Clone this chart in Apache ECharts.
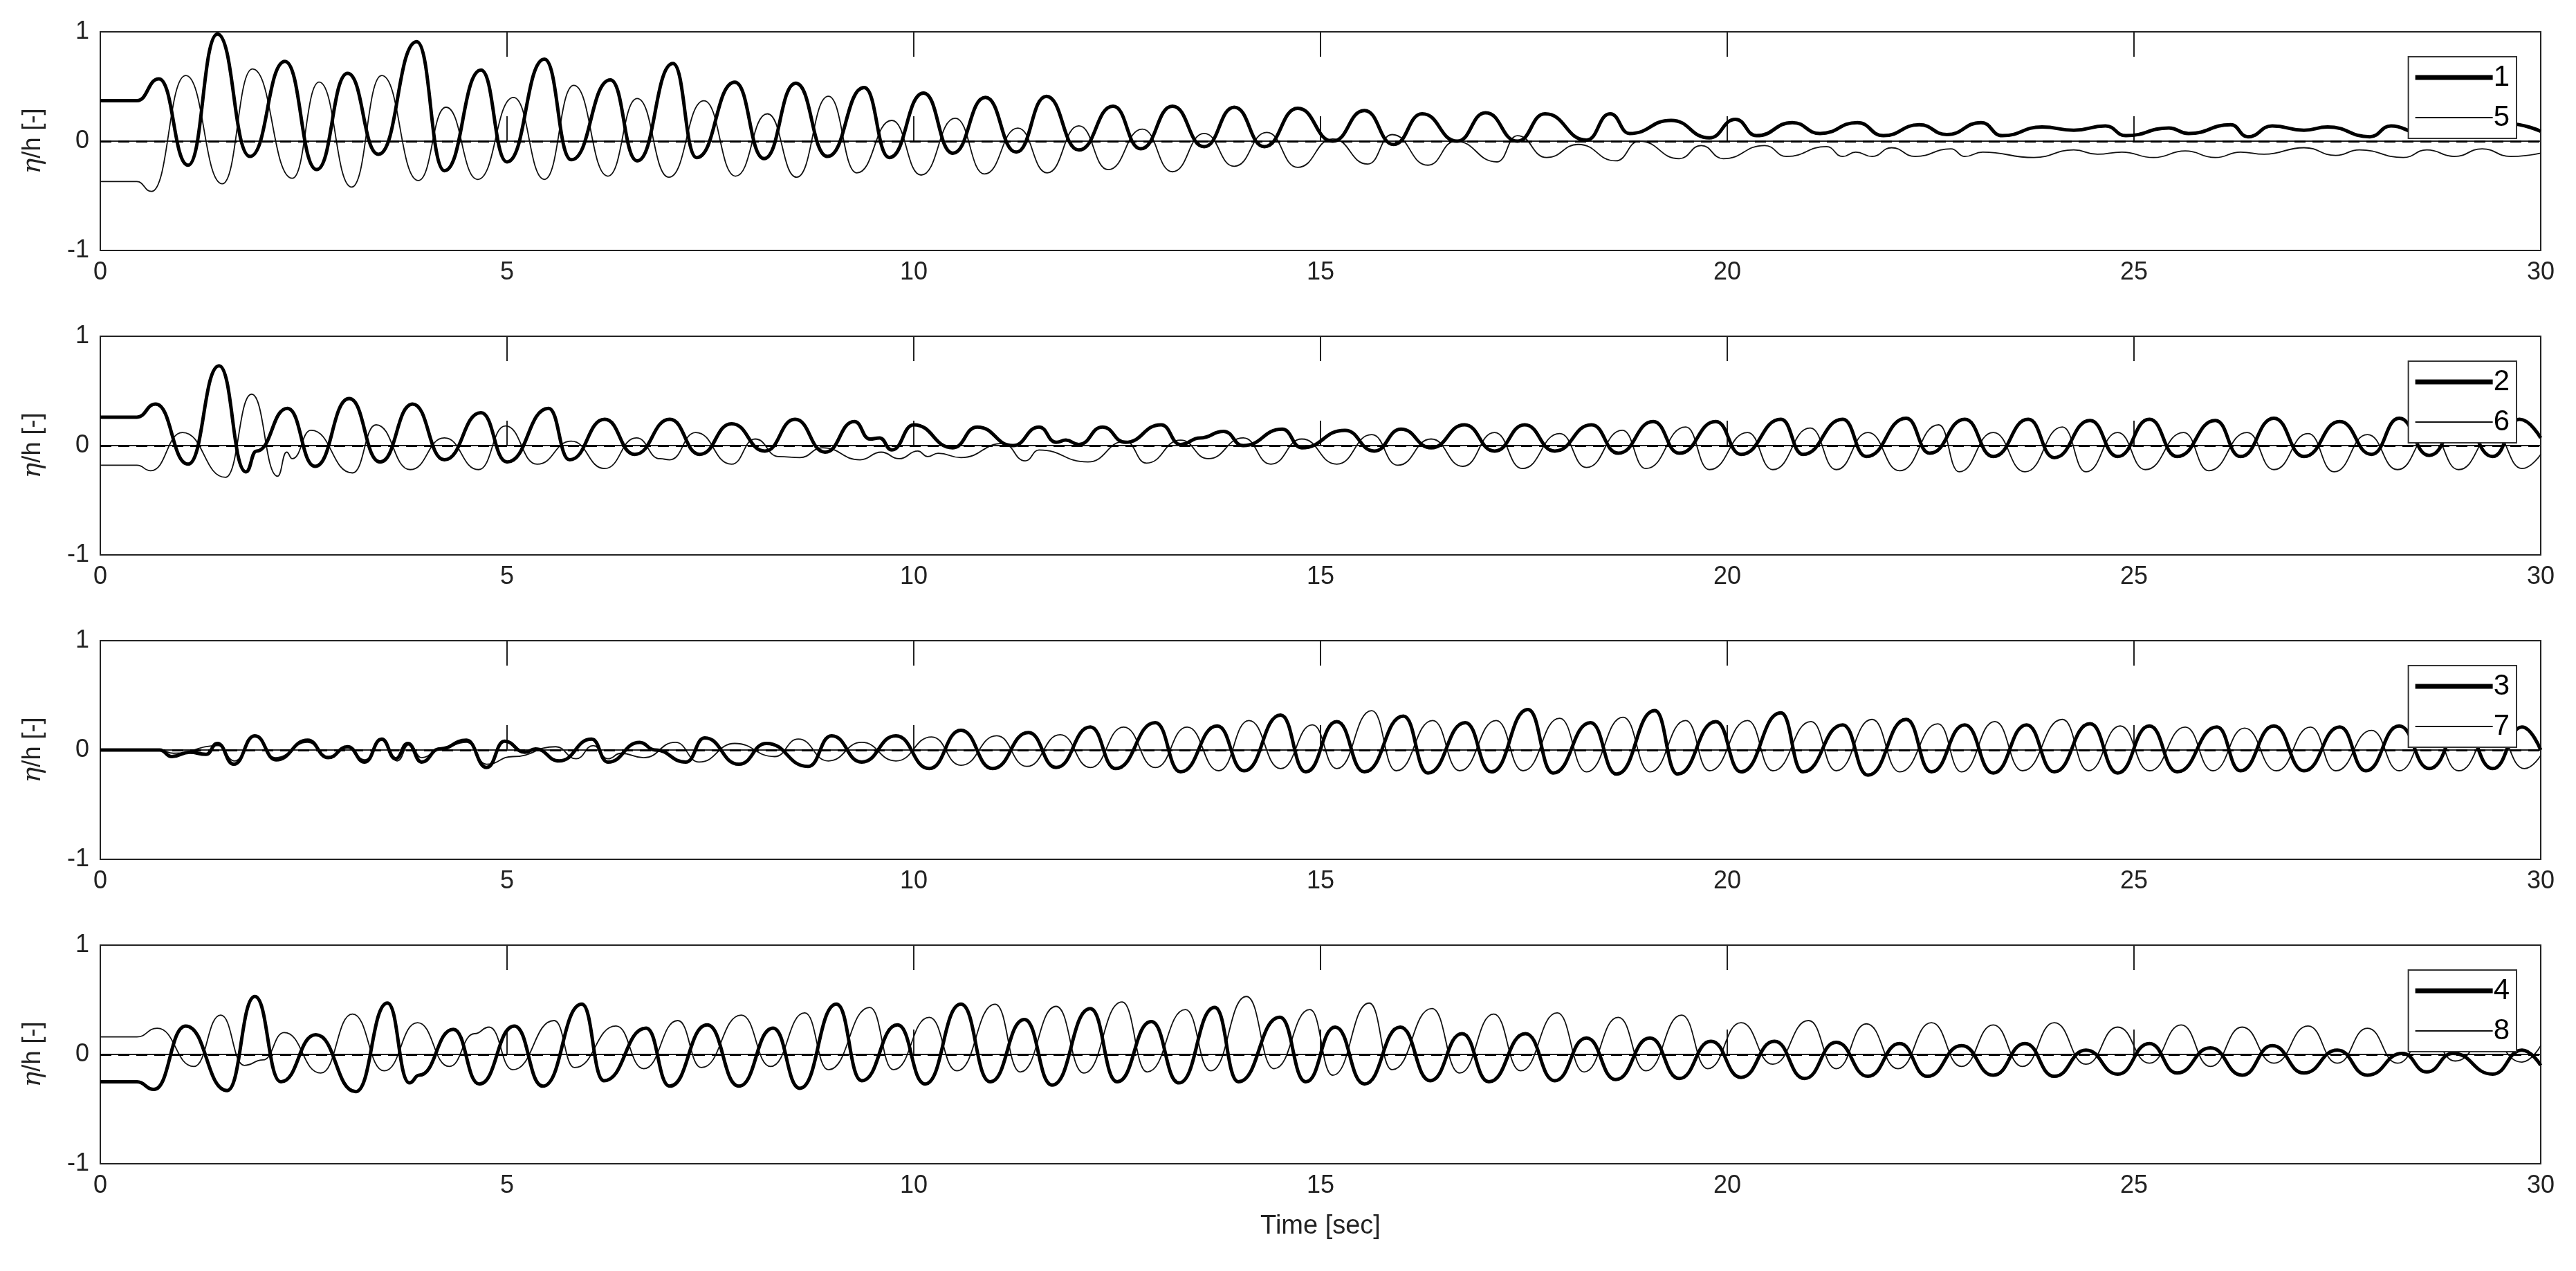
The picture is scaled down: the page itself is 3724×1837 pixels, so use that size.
<!DOCTYPE html>
<html><head><meta charset="utf-8">
<script src="https://cdn.jsdelivr.net/npm/echarts@6/dist/echarts.min.js"></script>
<style>html,body{margin:0;padding:0;background:#fff}#c{width:3724px;height:1837px}</style>
</head><body><div id="c"></div>
<script>
const xTicks = [0, 5, 10, 15, 20, 25, 30];
const yTicks = [-1, 0, 1];
const names = [['1','5'],['2','6'],['3','7'],['4','8']];

const s1 = [[0,0.37],[0.45,0.37],[0.72,0.57],[1.08,-0.22],[1.44,0.98],[1.84,-0.14],[2.27,0.73],[2.66,-0.26],[3.04,0.62],[3.42,-0.12],[3.89,0.91],[4.23,-0.27],[4.68,0.65],[5.0,-0.19],[5.46,0.75],[5.79,-0.17],[6.27,0.56],[6.6,-0.18],[7.04,0.71],[7.33,-0.15],[7.8,0.54],[8.16,-0.16],[8.55,0.53],[8.94,-0.14],[9.39,0.49],[9.7,-0.15],[10.12,0.44],[10.48,-0.11],[10.88,0.40],[11.26,-0.10],[11.63,0.41],[12.03,-0.08],[12.45,0.32],[12.79,-0.07],[13.18,0.32],[13.57,-0.05],[13.94,0.31],[14.31,-0.05],[14.72,0.30],[15.15,0.0],[15.54,0.28],[15.9,-0.03],[16.25,0.25],[16.68,0.0],[17.03,0.26],[17.42,0.0],[17.76,0.25],[18.27,0.01],[18.56,0.25],[18.8,0.07],[19.31,0.19],[19.78,0.03],[20.1,0.2],[20.36,0.05],[20.8,0.17],[21.14,0.07],[21.6,0.17],[21.92,0.05],[22.36,0.15],[22.7,0.06],[23.12,0.17],[23.38,0.05],[23.87,0.13],[24.26,0.1],[24.65,0.14],[24.9,0.05],[25.43,0.12],[25.67,0.07],[26.19,0.15],[26.4,0.04],[26.7,0.14],[27.09,0.1],[27.38,0.13],[27.9,0.04],[28.16,0.14],[28.5,0.08],[28.9,0.15],[29.2,0.06],[29.6,0.16],[30,0.09]];
const s5 = [[0,-0.37],[0.45,-0.37],[0.63,-0.46],[1.05,0.60],[1.5,-0.39],[1.87,0.66],[2.36,-0.34],[2.69,0.54],[3.09,-0.42],[3.46,0.60],[3.91,-0.36],[4.25,0.31],[4.64,-0.35],[5.08,0.40],[5.46,-0.35],[5.82,0.51],[6.24,-0.32],[6.6,0.39],[6.99,-0.33],[7.42,0.37],[7.81,-0.32],[8.2,0.25],[8.56,-0.33],[8.95,0.41],[9.3,-0.29],[9.73,0.19],[10.09,-0.31],[10.51,0.21],[10.87,-0.30],[11.28,0.12],[11.64,-0.29],[12.03,0.14],[12.39,-0.26],[12.81,0.11],[13.18,-0.28],[13.57,0.07],[13.94,-0.23],[14.34,0.08],[14.72,-0.24],[15.15,0.02],[15.58,-0.21],[15.88,0.06],[16.32,-0.22],[16.66,0.0],[17.17,-0.19],[17.42,0.05],[17.78,-0.15],[18.17,-0.03],[18.63,-0.18],[18.92,0.0],[19.41,-0.16],[19.68,-0.04],[19.95,-0.16],[20.46,-0.04],[20.73,-0.14],[21.22,-0.05],[21.42,-0.14],[21.58,-0.1],[21.78,-0.14],[22.02,-0.06],[22.31,-0.14],[22.75,-0.07],[22.92,-0.14],[23.14,-0.1],[23.77,-0.15],[24.26,-0.08],[24.55,-0.12],[24.85,-0.1],[25.24,-0.15],[25.63,-0.09],[26.0,-0.15],[26.31,-0.1],[26.6,-0.12],[27.09,-0.06],[27.48,-0.13],[27.77,-0.08],[28.31,-0.15],[28.6,-0.08],[28.94,-0.14],[29.28,-0.07],[29.63,-0.14],[30,-0.11]];
const s2 = [[0,0.26],[0.45,0.26],[0.68,0.38],[1.08,-0.17],[1.46,0.73],[1.79,-0.24],[1.92,-0.05],[2.3,0.34],[2.64,-0.19],[3.06,0.43],[3.44,-0.15],[3.84,0.38],[4.23,-0.13],[4.68,0.30],[5.0,-0.15],[5.51,0.34],[5.77,-0.13],[6.2,0.24],[6.57,-0.08],[7.0,0.24],[7.37,-0.08],[7.76,0.2],[8.17,-0.05],[8.54,0.24],[8.91,-0.06],[9.27,0.22],[9.46,0.06],[9.58,0.07],[9.73,-0.04],[10.0,0.19],[10.48,-0.02],[10.78,0.17],[11.22,0.0],[11.54,0.17],[11.75,0.03],[11.87,0.05],[12.03,0.01],[12.32,0.17],[12.6,0.03],[13.04,0.19],[13.28,0.01],[13.52,0.07],[13.81,0.13],[14.05,0.0],[14.53,0.15],[14.77,-0.02],[15.3,0.14],[15.66,-0.05],[15.99,0.15],[16.36,-0.02],[16.77,0.19],[17.14,-0.05],[17.51,0.19],[17.88,-0.05],[18.33,0.19],[18.66,-0.07],[19.09,0.22],[19.41,-0.07],[19.86,0.22],[20.17,-0.08],[20.66,0.24],[20.93,-0.08],[21.42,0.24],[21.71,-0.1],[22.2,0.25],[22.49,-0.07],[22.92,0.24],[23.27,-0.1],[23.7,0.24],[24.02,-0.11],[24.46,0.23],[24.8,-0.1],[25.19,0.24],[25.53,-0.1],[26.0,0.23],[26.31,-0.1],[26.72,0.25],[27.09,-0.1],[27.53,0.22],[27.92,-0.08],[28.26,0.25],[28.63,-0.09],[29.02,0.24],[29.41,-0.1],[29.74,0.24],[30,0.07]];
const s6 = [[0,-0.18],[0.45,-0.18],[0.62,-0.23],[1.01,0.12],[1.54,-0.29],[1.86,0.47],[2.18,-0.28],[2.29,-0.06],[2.36,-0.12],[2.59,0.14],[3.1,-0.25],[3.39,0.19],[3.81,-0.22],[4.23,0.07],[4.65,-0.22],[4.98,0.18],[5.37,-0.17],[5.79,0.04],[6.2,-0.21],[6.59,0.07],[6.88,-0.12],[7.0,-0.13],[7.32,0.12],[7.76,-0.17],[8.05,0.06],[8.34,-0.1],[8.6,-0.11],[8.88,-0.02],[9.34,-0.13],[9.6,-0.06],[9.82,-0.12],[10.05,-0.05],[10.17,-0.1],[10.3,-0.07],[10.58,-0.11],[11.1,0.02],[11.37,-0.14],[11.54,-0.04],[12.14,-0.15],[12.6,0.04],[12.86,-0.16],[13.28,0.05],[13.62,-0.12],[14.05,0.07],[14.39,-0.17],[14.77,0.06],[15.2,-0.17],[15.63,0.1],[15.95,-0.18],[16.36,0.06],[16.75,-0.19],[17.14,0.12],[17.48,-0.21],[17.94,0.11],[18.27,-0.2],[18.71,0.14],[19.0,-0.21],[19.49,0.17],[19.78,-0.22],[20.25,0.12],[20.56,-0.22],[21.02,0.16],[21.34,-0.22],[21.73,0.12],[22.12,-0.23],[22.6,0.19],[22.85,-0.24],[23.27,0.12],[23.66,-0.24],[24.12,0.17],[24.41,-0.24],[24.8,0.12],[25.14,-0.22],[25.61,0.12],[25.92,-0.23],[26.39,0.12],[26.72,-0.22],[27.14,0.11],[27.46,-0.24],[27.87,0.1],[28.24,-0.22],[28.65,0.11],[28.99,-0.22],[29.43,0.11],[29.77,-0.21],[30,-0.08]];
const s3 = [[0,0],[0.73,0],[0.88,-0.06],[1.1,-0.02],[1.3,-0.04],[1.44,0.06],[1.64,-0.13],[1.9,0.13],[2.16,-0.09],[2.55,0.09],[2.8,-0.07],[3.04,0.03],[3.25,-0.11],[3.46,0.1],[3.63,-0.08],[3.78,0.06],[3.95,-0.11],[4.17,0.01],[4.5,0.09],[4.75,-0.16],[4.97,0.08],[5.22,-0.02],[5.35,0.01],[5.64,-0.1],[6.04,0.1],[6.24,-0.11],[6.63,0.07],[6.82,0.0],[7.2,-0.11],[7.43,0.11],[7.85,-0.13],[8.19,0.06],[8.7,-0.15],[8.99,0.13],[9.36,-0.11],[9.78,0.13],[10.19,-0.17],[10.58,0.18],[10.97,-0.17],[11.41,0.16],[11.75,-0.16],[12.17,0.21],[12.48,-0.17],[12.97,0.25],[13.28,-0.2],[13.73,0.22],[14.06,-0.19],[14.51,0.32],[14.82,-0.2],[15.2,0.26],[15.54,-0.2],[16.02,0.31],[16.32,-0.21],[16.78,0.25],[17.1,-0.2],[17.55,0.37],[17.86,-0.21],[18.32,0.25],[18.64,-0.22],[19.11,0.36],[19.39,-0.22],[19.86,0.26],[20.17,-0.2],[20.66,0.34],[20.93,-0.2],[21.42,0.23],[21.73,-0.23],[22.2,0.28],[22.51,-0.2],[22.92,0.23],[23.27,-0.21],[23.68,0.23],[24.02,-0.2],[24.46,0.24],[24.8,-0.21],[25.19,0.22],[25.53,-0.2],[26.02,0.21],[26.31,-0.19],[26.72,0.22],[27.09,-0.19],[27.53,0.21],[27.85,-0.19],[28.26,0.22],[28.63,-0.17],[29.04,0.22],[29.41,-0.17],[29.77,0.21],[30,0]];
const s7 = [[0,0],[0.73,0],[0.9,-0.03],[1.45,0.04],[1.65,-0.1],[1.9,0.12],[2.15,-0.07],[2.55,0.07],[2.8,-0.06],[3.05,0.02],[3.25,-0.09],[3.46,0.09],[3.65,-0.1],[3.8,0.05],[3.95,-0.07],[4.2,0.02],[4.5,0.07],[4.75,-0.13],[5.07,-0.06],[5.6,0.03],[5.85,-0.08],[6.06,0.04],[6.24,-0.08],[6.4,-0.03],[6.68,-0.07],[7.07,0.07],[7.36,-0.11],[7.8,0.06],[8.29,-0.06],[8.58,0.1],[8.95,-0.1],[9.36,0.07],[9.78,-0.1],[10.22,0.12],[10.58,-0.14],[11.02,0.13],[11.39,-0.15],[11.8,0.14],[12.17,-0.16],[12.58,0.21],[12.97,-0.16],[13.36,0.21],[13.75,-0.19],[14.12,0.27],[14.51,-0.17],[14.9,0.23],[15.2,-0.17],[15.63,0.36],[15.93,-0.19],[16.38,0.27],[16.71,-0.19],[17.16,0.27],[17.49,-0.19],[17.94,0.29],[18.27,-0.2],[18.72,0.3],[19.05,-0.2],[19.49,0.27],[19.78,-0.19],[20.25,0.27],[20.56,-0.19],[21.03,0.26],[21.34,-0.19],[21.78,0.28],[22.12,-0.2],[22.59,0.24],[22.88,-0.2],[23.29,0.26],[23.63,-0.19],[24.12,0.28],[24.44,-0.19],[24.83,0.22],[25.19,-0.19],[25.63,0.21],[25.97,-0.19],[26.36,0.2],[26.75,-0.19],[27.17,0.21],[27.48,-0.19],[27.92,0.18],[28.26,-0.19],[28.65,0.19],[28.99,-0.19],[29.43,0.2],[29.8,-0.17],[30,-0.05]];
const s4 = [[0,-0.25],[0.45,-0.25],[0.66,-0.32],[1.05,0.26],[1.56,-0.33],[1.9,0.53],[2.22,-0.25],[2.65,0.18],[3.14,-0.34],[3.53,0.47],[3.8,-0.26],[3.92,-0.19],[4.34,0.23],[4.66,-0.27],[5.09,0.26],[5.44,-0.29],[5.92,0.46],[6.19,-0.24],[6.71,0.24],[7.0,-0.29],[7.46,0.27],[7.85,-0.29],[8.27,0.24],[8.6,-0.31],[9.05,0.46],[9.36,-0.24],[9.8,0.27],[10.14,-0.27],[10.58,0.46],[10.94,-0.25],[11.36,0.32],[11.7,-0.28],[12.17,0.42],[12.5,-0.25],[12.92,0.3],[13.26,-0.26],[13.7,0.43],[13.99,-0.25],[14.5,0.34],[14.82,-0.25],[15.18,0.25],[15.54,-0.27],[15.98,0.25],[16.35,-0.24],[16.74,0.19],[17.07,-0.25],[17.52,0.19],[17.88,-0.24],[18.27,0.15],[18.63,-0.23],[19.05,0.15],[19.41,-0.22],[19.8,0.12],[20.17,-0.21],[20.58,0.12],[20.95,-0.22],[21.34,0.11],[21.73,-0.2],[22.12,0.1],[22.46,-0.2],[22.88,0.08],[23.27,-0.19],[23.66,0.1],[24.02,-0.2],[24.41,0.04],[24.8,-0.18],[25.19,0.1],[25.53,-0.17],[25.94,0.06],[26.33,-0.19],[26.7,0.08],[27.09,-0.17],[27.5,0.04],[27.87,-0.19],[28.3,0.01],[28.6,-0.16],[28.92,0.01],[29.41,-0.18],[29.77,0.04],[30,-0.1]];
const s8 = [[0,0.16],[0.45,0.16],[0.7,0.24],[1.15,-0.11],[1.48,0.36],[1.77,-0.1],[2.0,-0.05],[2.26,0.2],[2.71,-0.17],[3.1,0.37],[3.49,-0.15],[3.9,0.29],[4.29,-0.11],[4.6,0.19],[4.78,0.25],[5.07,-0.14],[5.58,0.31],[5.83,-0.12],[6.34,0.26],[6.68,-0.13],[7.1,0.31],[7.39,-0.12],[7.88,0.36],[8.24,-0.11],[8.66,0.38],[8.95,-0.14],[9.46,0.43],[9.75,-0.14],[10.19,0.34],[10.53,-0.15],[11.0,0.46],[11.31,-0.16],[11.75,0.44],[12.09,-0.17],[12.56,0.48],[12.87,-0.16],[13.34,0.41],[13.65,-0.15],[14.09,0.53],[14.43,-0.13],[14.87,0.41],[15.15,-0.19],[15.6,0.47],[15.88,-0.14],[16.37,0.42],[16.71,-0.17],[17.13,0.37],[17.46,-0.15],[17.91,0.38],[18.24,-0.16],[18.66,0.34],[19.0,-0.15],[19.44,0.36],[19.76,-0.13],[20.17,0.29],[20.56,-0.09],[21.0,0.31],[21.34,-0.13],[21.71,0.28],[22.1,-0.13],[22.51,0.29],[22.88,-0.11],[23.27,0.27],[23.63,-0.11],[24.02,0.29],[24.41,-0.09],[24.8,0.25],[25.19,-0.08],[25.58,0.27],[25.94,-0.11],[26.33,0.25],[26.72,-0.08],[27.14,0.26],[27.5,-0.08],[27.87,0.24],[28.24,-0.08],[28.6,0.2],[28.95,-0.06],[29.35,0.15],[29.77,-0.07],[30,0.08]];

const thick = [s1, s2, s3, s4];
const thin = [s5, s6, s7, s8];
const tops = [46, 486, 926, 1366];
const H = 316;
const FONT = 'Liberation Sans, Arial, sans-serif';

const grid = [], xAxis = [], yAxis = [], series = [], legend = [];
tops.forEach((top, i) => {
  grid.push({left: 145, right: 51, top: top, height: H, show: true, borderColor: '#222', borderWidth: 2, backgroundColor: '#fff'});
  xAxis.push({type: 'value', gridIndex: i, min: xTicks[0], max: xTicks[xTicks.length-1], interval: 5,
    axisLine: {show: true, lineStyle: {color: '#222', width: 2}},
    axisTick: {show: true, inside: true, length: 36, lineStyle: {color: '#222', width: 2}},
    axisLabel: {show: true, fontSize: 36, color: '#222', fontFamily: FONT, margin: 14},
    splitLine: {show: false},
    name: i === 3 ? 'Time [sec]' : '', nameLocation: 'middle', nameGap: 72,
    nameTextStyle: {fontSize: 38, color: '#222', fontFamily: FONT}});
  xAxis.push({type: 'value', gridIndex: i, position: 'top', min: 0, max: 30, interval: 5,
    axisLine: {show: false}, axisTick: {show: true, inside: true, length: 36, lineStyle: {color: '#222', width: 2}},
    axisLabel: {show: false}, splitLine: {show: false}});
  yAxis.push({type: 'value', gridIndex: i, min: yTicks[0], max: yTicks[yTicks.length-1], interval: 1,
    axisLine: {show: true, lineStyle: {color: '#222', width: 2}},
    axisTick: {show: true, inside: true, length: 10, lineStyle: {color: '#222', width: 2}},
    axisLabel: {fontSize: 36, color: '#222', fontFamily: FONT, margin: 16},
    splitLine: {show: false},
    name: '{i|η}/h [-]', nameLocation: 'middle', nameGap: 78, nameRotate: 90,
    nameTextStyle: {fontSize: 36, color: '#222', fontFamily: FONT, rich: {i: {fontSize: 38, fontStyle: 'italic', fontFamily: 'DejaVu Serif, serif', color: '#222'}}}});
  series.push({name: names[i][0], type: 'line', xAxisIndex: 2*i, yAxisIndex: i, data: thick[i],
    showSymbol: false, symbol: 'none', smooth: 0.5, smoothMonotone: 'x', z: 3, color: '#000',
    lineStyle: {color: '#000', width: 5},
    markLine: {silent: true, symbol: 'none', label: {show: false},
      lineStyle: {color: '#000', width: 3, type: [16, 10]}, data: [{yAxis: 0}]}});
  series.push({name: names[i][1], type: 'line', xAxisIndex: 2*i, yAxisIndex: i, data: thin[i],
    showSymbol: false, symbol: 'none', smooth: 0.5, smoothMonotone: 'x', z: 2, color: '#111',
    lineStyle: {color: '#111', width: 1.8}});
  legend.push({
    data: [
      {name: names[i][0], icon: 'path://M0,0H112V7H0Z', itemStyle: {color: '#000', borderWidth: 0}},
      {name: names[i][1], icon: 'path://M0,0H112V2H0Z', itemStyle: {color: '#111', borderWidth: 0}}
    ],
    orient: 'vertical', right: 86, top: top + 36, z: 10,
    backgroundColor: '#fff', borderColor: '#333', borderWidth: 2, borderRadius: 0,
    padding: [9, 10, 9, 10], itemGap: 16, itemWidth: 112, itemHeight: 24,
    textStyle: {fontSize: 42, color: '#000', fontFamily: 'Liberation Sans Narrow, Liberation Sans, sans-serif', padding: [0,0,0,-4]}});
});

const chart = echarts.init(document.getElementById('c'), null, {renderer: 'canvas'});
chart.setOption({animation: false, backgroundColor: '#fff', grid, xAxis, yAxis, series, legend});
</script></body></html>
